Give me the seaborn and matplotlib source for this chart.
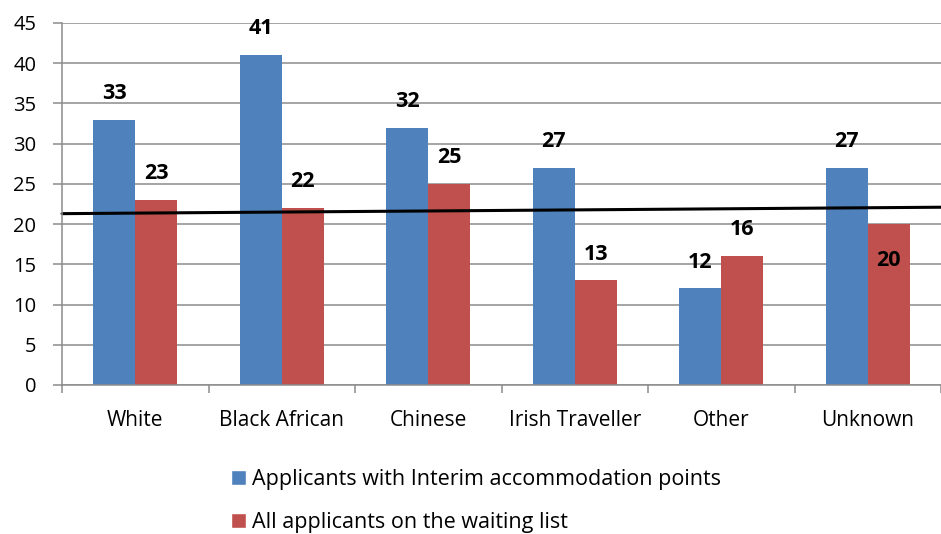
import matplotlib
matplotlib.use("Agg")
import matplotlib.pyplot as plt
import pandas as pd
import seaborn as sns
from matplotlib.patches import Patch
from matplotlib.ticker import FixedLocator

# chart values
categories = ["White", "Black African", "Chinese", "Irish Traveller", "Other", "Unknown"]
interim_points = [33, 41, 32, 27, 12, 27]
waiting_list = [23, 22, 25, 13, 16, 20]
series_names = ["Applicants with Interim accommodation points", "All applicants on the waiting list"]
trend_ends = [21.3, 22.1]  # trendline value at the left and right plot edges
y_ticks = list(range(0, 50, 5))

BLUE = "#4F81BD"
RED = "#C0504D"
GRID = "#8C8C8C"

df = pd.DataFrame({
    "category": categories * 2,
    "value": interim_points + waiting_list,
    "series": [series_names[0]] * len(categories) + [series_names[1]] * len(categories),
})

sns.set_theme(style="white")
plt.rcParams["font.family"] = ["Open Sans", "DejaVu Sans"]
plt.rcParams["text.color"] = "black"

fig = plt.figure(figsize=(9.41, 5.34), dpi=100)
ax = fig.add_axes([62 / 941, 1 - 385 / 534, 1 - 62 / 941, (385 - 23) / 534])

sns.barplot(data=df, x="category", y="value", hue="series", order=categories,
            hue_order=series_names, palette=[BLUE, RED], width=0.575, gap=0,
            saturation=1, ax=ax, legend=False, edgecolor="none")

ax.set_xlim(-0.5, len(categories) - 0.5)
ax.set_ylim(0, 45)
ax.set_yticks(y_ticks)
ax.yaxis.grid(True, color=GRID, linewidth=1.1)
ax.set_axisbelow(True)
ax.set_xlabel("")
ax.set_ylabel("")

for side in ["top", "right"]:
    ax.spines[side].set_visible(False)
for side in ["left", "bottom"]:
    ax.spines[side].set_color(GRID)
    ax.spines[side].set_linewidth(1.1)

ax.tick_params(axis="y", left=True, length=6.5, width=1.1, color=GRID, labelsize=14.5, pad=12,
               labelcolor="black")
ax.tick_params(axis="x", which="major", bottom=False, labelsize=15, pad=12, labelcolor="black")
ax.xaxis.set_minor_locator(FixedLocator([i - 0.5 for i in range(len(categories) + 1)]))
ax.tick_params(axis="x", which="minor", bottom=True, length=6, width=1.1, color=GRID)

# value labels
for container, vals in zip(ax.containers, [interim_points, waiting_list]):
    for bar, v in zip(container, vals):
        cx = bar.get_x() + bar.get_width() / 2
        if bar is ax.containers[1][-1]:
            # label pushed inside the last bar, as in the original
            ax.annotate(str(v), (cx, v), xytext=(0, -26), textcoords="offset points",
                        ha="center", va="center", fontsize=15.5, fontweight="bold",
                        color="black")
        else:
            ax.annotate(str(v), (cx, v), xytext=(0, 19), textcoords="offset points",
                        ha="center", va="center", fontsize=15.5, fontweight="bold",
                        color="black")

# linear trendline across the whole plot width
xl = ax.get_xlim()
ax.plot(list(xl), trend_ends, color="black", linewidth=2.2, clip_on=False)

handles = [Patch(facecolor=BLUE), Patch(facecolor=RED)]
fig.legend(handles, series_names, loc="upper left", bbox_to_anchor=(220 / 941, 1 - 458 / 534),
           frameon=False, fontsize=15.5, handlelength=0.7, handleheight=0.7,
           handletextpad=0.3, labelspacing=1.05, borderpad=0, labelcolor="black")

fig.savefig("out.png", dpi=100)
